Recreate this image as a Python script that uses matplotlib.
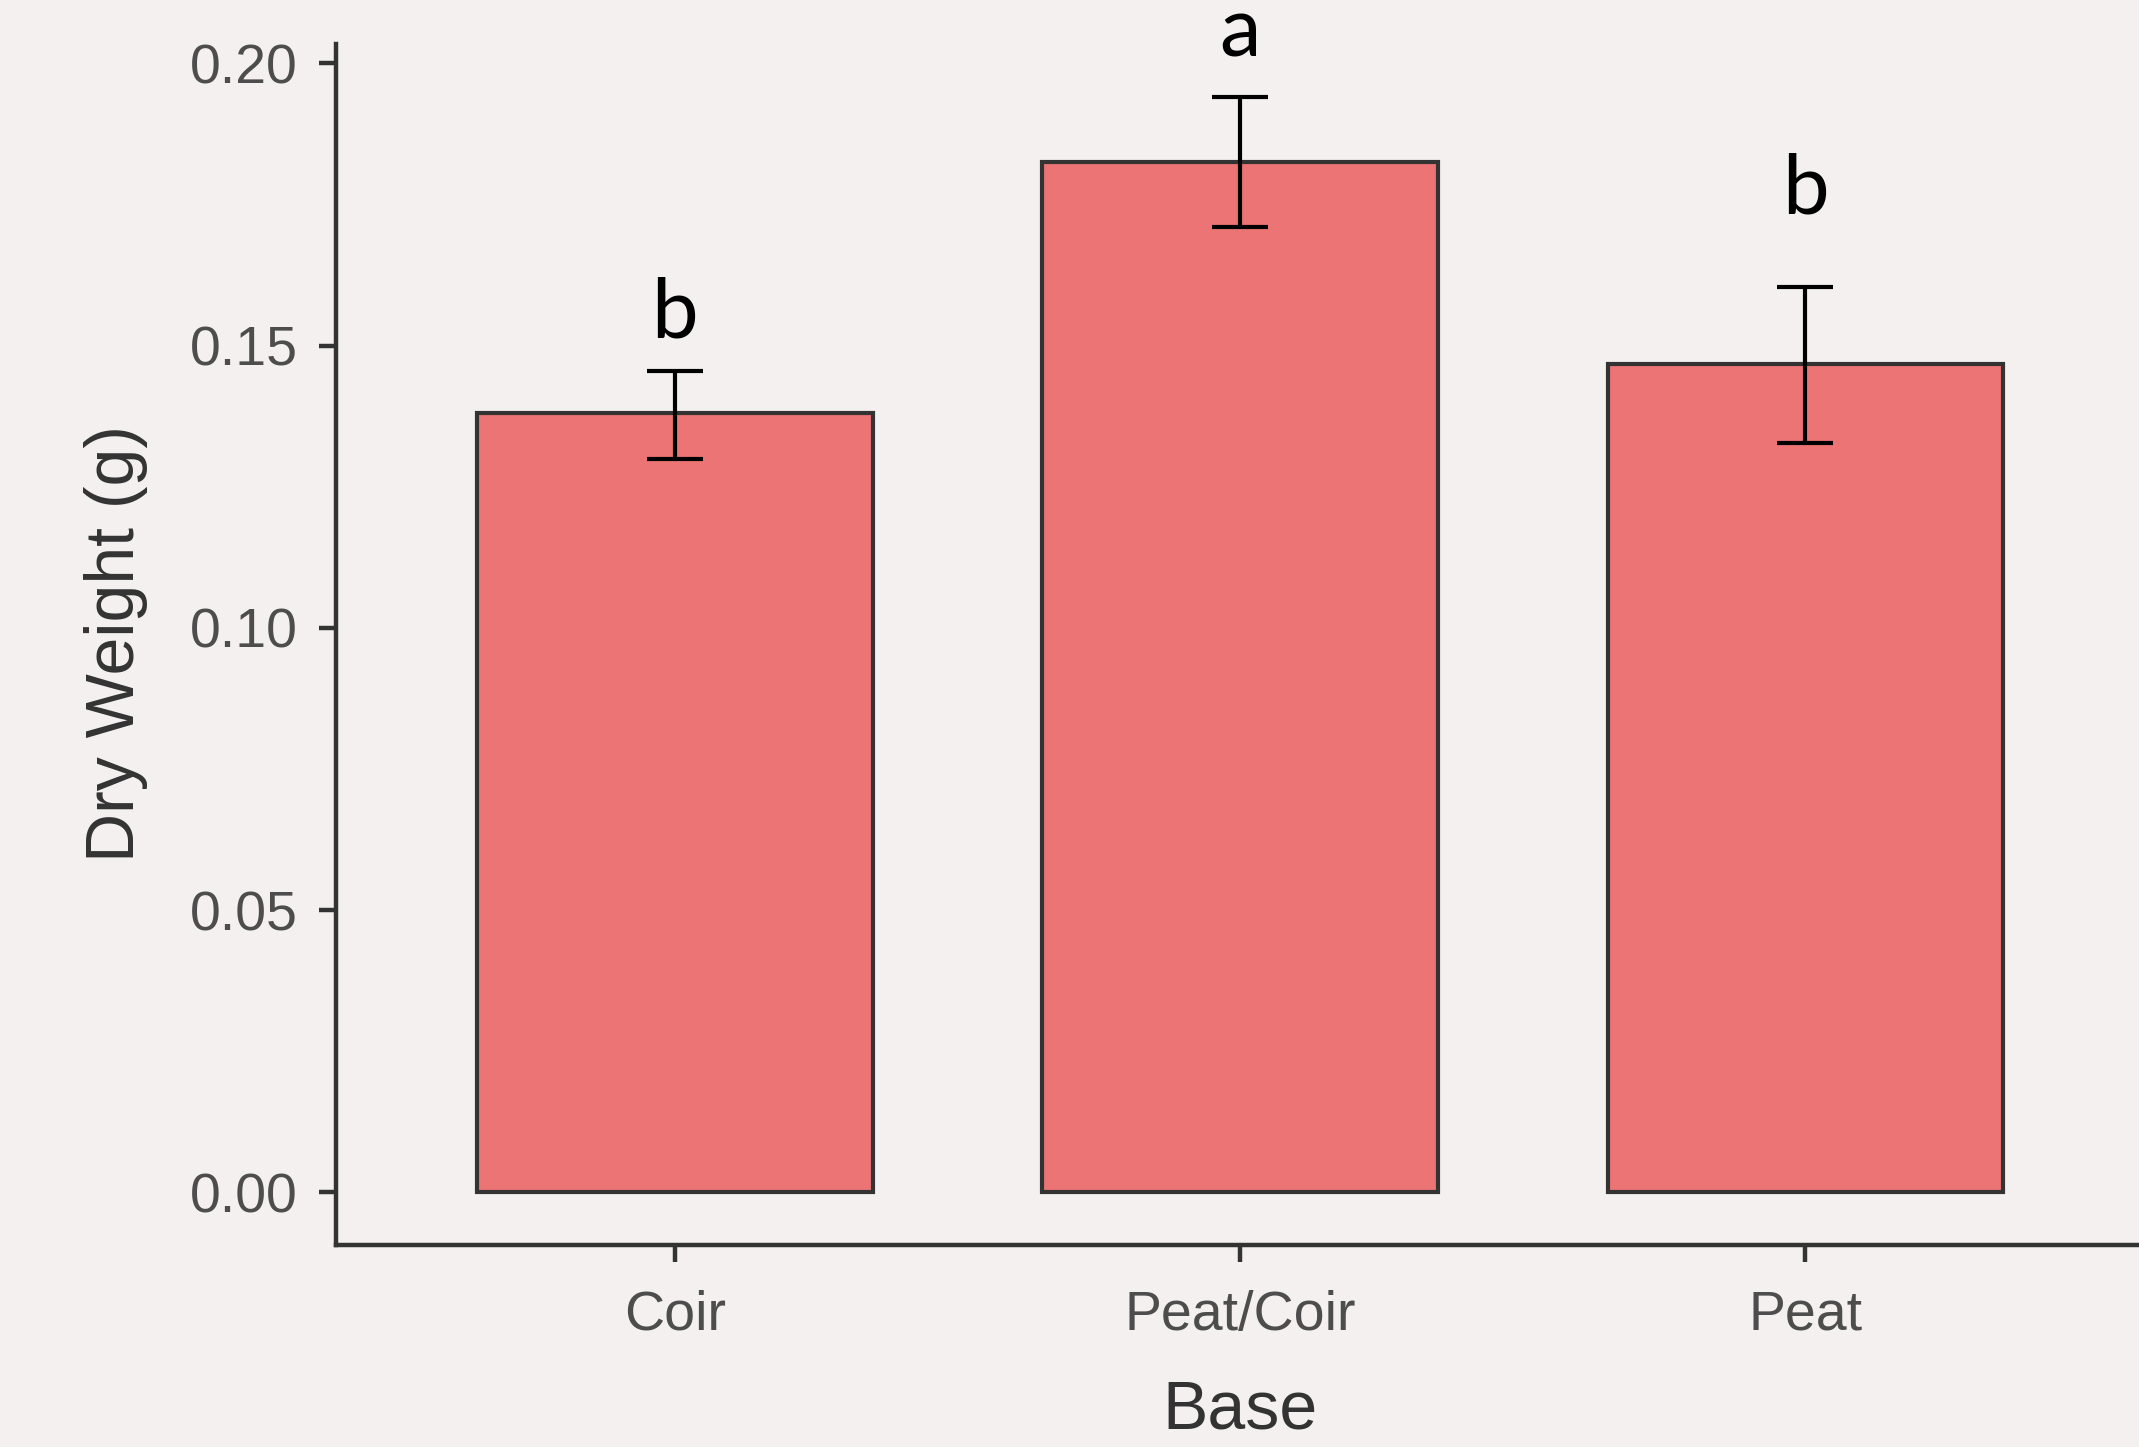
import matplotlib
matplotlib.use("Agg")
import matplotlib.pyplot as plt

categories = ["Coir", "Peat/Coir", "Peat"]
means = [0.138, 0.1826, 0.1467]
err_low = [0.130, 0.171, 0.1327]
err_high = [0.1455, 0.194, 0.1604]
letters = ["b", "a", "b"]
letter_y = [0.1515, 0.2012, 0.1735]
yticks = [0.00, 0.05, 0.10, 0.15, 0.20]

bg = "#F3F0EF"
fig = plt.figure(figsize=(21.39, 14.47), dpi=100, facecolor=bg)
ax = fig.add_axes([0.1569, 0.1393, 0.8457, 0.8305])
ax.set_facecolor(bg)

x = list(range(len(categories)))
lo = [m - l for m, l in zip(means, err_low)]
hi = [h - m for m, h in zip(means, err_high)]
ax.bar(x, means, width=0.7, color="#ED7475", edgecolor="#333333", linewidth=3.0, zorder=2)
ax.errorbar(x, means, yerr=[lo, hi], fmt="none", ecolor="black", elinewidth=3.0,
            capsize=20, capthick=3.0, zorder=3)

for xi, lt, ly in zip(x, letters, letter_y):
    ax.text(xi, ly, lt, ha="center", va="baseline", fontsize=60, family="Lato", color="black")

ax.set_xlim(-0.6, 2.6)
ax.set_ylim(-0.0094, 0.2035)
ax.set_yticks(yticks)
ax.set_yticklabels([f"{t:.2f}" for t in yticks])
ax.set_xticks(x)
ax.set_xticklabels(categories)

for s in ["top", "right"]:
    ax.spines[s].set_visible(False)
for s in ["left", "bottom"]:
    ax.spines[s].set_color("#333333")
    ax.spines[s].set_linewidth(3.2)

ax.tick_params(axis="both", length=12, width=3.2, color="#333333",
               labelsize=40, labelcolor="#4D4D4D")
ax.tick_params(axis="y", pad=15)
ax.tick_params(axis="x", pad=20)
for lab in ax.get_xticklabels() + ax.get_yticklabels():
    lab.set_family("Liberation Sans")

fig.text(0.0542, 0.555, "Dry Weight (g)", rotation=90, ha="center", va="center",
         fontsize=49, family="Liberation Sans", color="#333333")
fig.text(0.5798, 0.0255, "Base", ha="center", va="center",
         fontsize=49, family="Liberation Sans", color="#333333")

fig.savefig("out.png", dpi=100, facecolor=bg)
